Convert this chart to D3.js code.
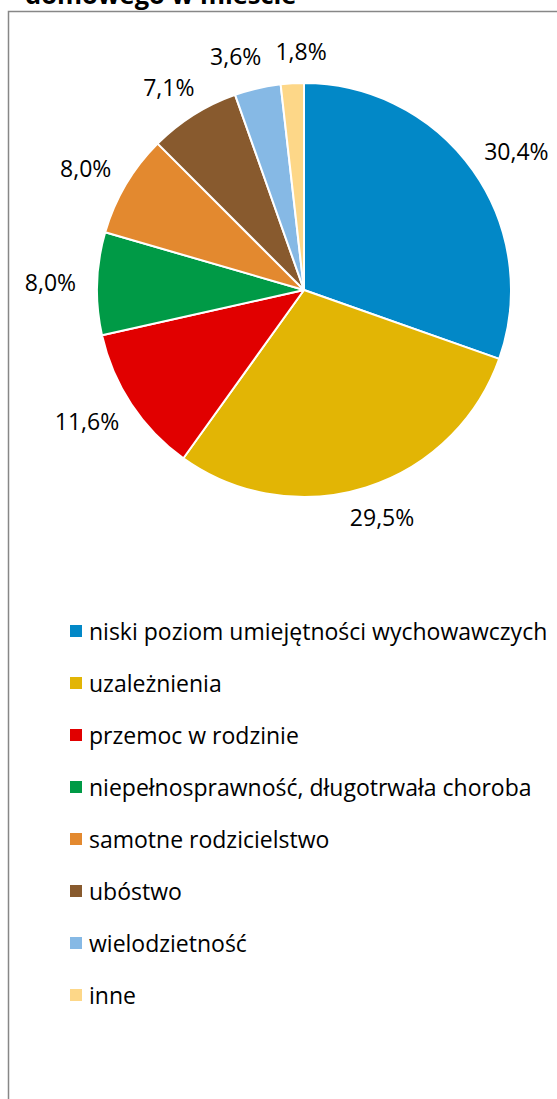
<!DOCTYPE html>
<html>
<head>
<meta charset="utf-8">
<script src="https://cdn.jsdelivr.net/npm/d3@7"></script>
<style>
  body { margin: 0; background: #fff; }
  svg { display: block; font-family: "Open Sans", sans-serif; }
</style>
</head>
<body>
<svg id="chart" width="557" height="1099"></svg>
<script>
// chart data
const titleText = "domowego w mieście";
const categories = [
    "niski poziom umiejętności wychowawczych",
    "uzależnienia",
    "przemoc w rodzinie",
    "niepełnosprawność, długotrwała choroba",
    "samotne rodzicielstwo",
    "ubóstwo",
    "wielodzietność",
    "inne"
];
const values = [30.4, 29.5, 11.6, 8.0, 8.0, 7.1, 3.6, 1.8];
const colors = ["#0288C7", "#E2B505", "#E10000", "#009A46", "#E3892F", "#885A2E", "#86B9E5", "#FDD788"];

const svg = d3.select('#chart');

// frame (only left + top edges are inside the picture)
svg.append('path')
    .attr('d', 'M8.5,1099 L8.5,11.5 L557,11.5')
    .attr('fill', 'none')
    .attr('stroke', '#878787')
    .attr('stroke-width', 1.5);

// title, mostly cut off at the top
svg.append('text')
    .attr('x', 25)
    .attr('y', 4)
    .attr('font-size', 25.5)
    .attr('font-weight', 'bold')
    .attr('fill', '#000')
    .text(titleText);

const cx = 304, cy = 290, radius = 207;
const fmt = (v) => v.toFixed(1).replace('.', ',') + '%';

const pie = d3.pie().sort(null).value((d) => d.value);
const arcs = pie(values.map((v, i) => ({value: v, i: i})));
const arc = d3.arc().innerRadius(0).outerRadius(radius);

const g = svg.append('g').attr('transform', `translate(${cx},${cy})`);

g.selectAll('path.slice')
    .data(arcs)
    .join('path')
    .attr('class', 'slice')
    .attr('d', arc)
    .attr('fill', (d) => colors[d.data.i])
    .attr('stroke', '#fff')
    .attr('stroke-width', 2)
    .attr('stroke-linejoin', 'round');

// data labels, outside end
const labelFont = 23;
const labels = g.selectAll('text.lbl')
    .data(arcs)
    .join('text')
    .attr('class', 'lbl')
    .attr('font-size', labelFont)
    .attr('fill', '#000')
    .attr('text-anchor', 'middle')
    .text((d) => fmt(d.data.value));

const boxes = [];
labels.each(function(d)
{
    const w = this.getComputedTextLength();
    const h = 22;
    const a = (d.startAngle + d.endAngle) / 2;
    const s = Math.sin(a), c = Math.cos(a);
    const R = radius + 21;
    boxes.push({node: this, x: s * R + s * w / 2, y: -c * R - c * h / 2, w: w, h: h});
});

// push overlapping labels apart sideways
for(let k = 0; k < 20; k++)
{
    for(let i = 0; i < boxes.length; i++)
    {
        for(let j = i + 1; j < boxes.length; j++)
        {
            const A = boxes[i], B = boxes[j];
            const ox = (A.w + B.w) / 2 + 14 - Math.abs(A.x - B.x);
            const oy = (A.h + B.h) / 2 - Math.abs(A.y - B.y);
            if(ox > 0 && oy > 0)
            {
                const dir = A.x < B.x ? -1 : 1;
                A.x += dir * ox / 2;
                B.x -= dir * ox / 2;
            }
        }
    }
}

boxes.forEach((b) =>
{
    d3.select(b.node).attr('x', b.x).attr('y', b.y + labelFont * 0.36);
});

// legend
const legendX = 70, legendTop = 640, legendStep = 52;
const legend = svg.append('g');

const items = legend.selectAll('g')
    .data(categories)
    .join('g')
    .attr('transform', (d, i) => `translate(${legendX},${legendTop + i * legendStep})`);

items.append('rect')
    .attr('x', 0)
    .attr('y', -15)
    .attr('width', 12)
    .attr('height', 12)
    .attr('fill', (d, i) => colors[i]);

items.append('text')
    .attr('x', 19)
    .attr('y', 0)
    .attr('font-size', 23)
    .attr('fill', '#000')
    .text((d) => d);
</script>
</body>
</html>
